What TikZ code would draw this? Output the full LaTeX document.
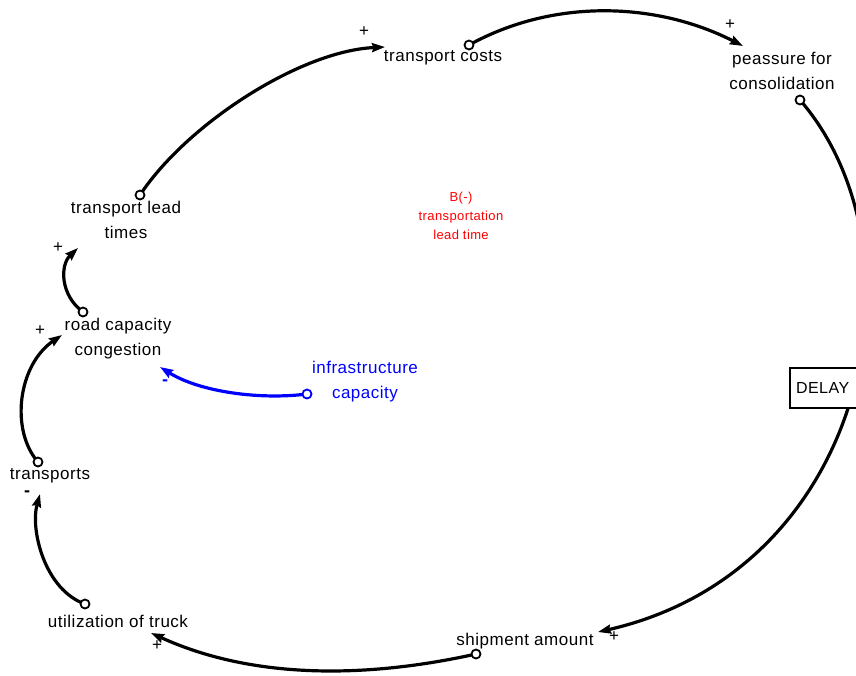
\documentclass[tikz,border=0pt]{standalone}
\usepackage{fontspec}
\setmainfont{Liberation Sans}[LetterSpace=3]
\usetikzlibrary{arrows.meta}
\definecolor{loopred}{RGB}{255,0,0}
\definecolor{infblue}{RGB}{0,0,255}
\begin{document}
\begin{tikzpicture}[x=1pt,y=-1pt,
  lbl/.style={font=\fontsize{17}{25}\selectfont, align=center, inner sep=0pt},
  link/.style={line width=3.2pt, -{Stealth[length=13pt,width=9pt,inset=1.5pt]}},
  tailc/.style={circle, draw, fill=white, line width=1.8pt, inner sep=0pt, minimum size=9pt},
  sign/.style={font=\fontsize{17}{17}\selectfont, inner sep=0pt}]
\useasboundingbox (0,0) rectangle (856,675);
\clip (0,0) rectangle (856,675);
% labels
\node[lbl] (tc) at (443,58) {transport costs};
\node[lbl] (pc) at (782,71) {peassure for\\consolidation};
\node[lbl] (tlt) at (126,220) {transport lead\\times};
\node[lbl] (rcc) at (118,339) {road capacity\\congestion};
\node[lbl, text=infblue] (ic) at (365,382) {infrastructure\\capacity};
\node[lbl] (tr) at (50,476) {transports};
\node[lbl] (ut) at (118,621) {utilization of truck};
\node[lbl] (sa) at (525,641) {shipment amount};
\node[font=\fontsize{13}{19}\selectfont, align=center, text=loopred, inner sep=0pt] (loop) at (461,216) {B(-)\\transportation\\lead time};
% connector end points
\coordinate (tltT) at (140,195);
\coordinate (tcH) at (385,47);
\coordinate (tcT) at (469,45);
\coordinate (pcH) at (743,46);
\coordinate (pcT) at (800,100);
\coordinate (saH) at (598,632);
\coordinate (saT) at (476,654);
\coordinate (utH) at (151,633);
\coordinate (utT) at (85,604);
\coordinate (trH) at (40,494);
\coordinate (trT) at (38,462);
\coordinate (rcH) at (62,335);
\coordinate (rcT) at (83,312);
\coordinate (tlH) at (78,248);
\coordinate (icT) at (307,394);
\coordinate (icH) at (160,367);
% connectors
\draw[link] (tltT) .. controls (187,124) and (300,51) .. (tcH);
\draw[link] (tcT) .. controls (554,-2) and (657,2) .. (pcH);
\draw[link] (pcT) .. controls (930,250) and (870,570) .. (saH);
\draw[link] (saT) .. controls (368,678) and (254,680) .. (utH);
\draw[link] (utT) .. controls (45,590) and (30,530) .. (trH);
\draw[link] (trT) .. controls (10,430) and (18,365) .. (rcH);
\draw[link] (rcT) .. controls (60,295) and (60,265) .. (tlH);
\draw[link, draw=infblue] (icT) .. controls (260,400) and (200,392) .. (icH);
% tail circles
\node[tailc] (c1) at (tltT) {};
\node[tailc] (c2) at (tcT) {};
\node[tailc] (c3) at (pcT) {};
\node[tailc] (c4) at (saT) {};
\node[tailc] (c5) at (utT) {};
\node[tailc] (c6) at (trT) {};
\node[tailc] (c7) at (rcT) {};
\node[tailc, draw=infblue] (c8) at (icT) {};
% delay box
\node[draw, fill=white, line width=2.2pt, font=\fontsize{16}{16}\selectfont, minimum height=40pt, minimum width=90pt, inner sep=6pt, text width=78pt, align=left] (delay) at (835,388) {DELAY};
% polarity signs
\node[sign] (s1) at (364,32) {+};
\node[sign] (s2) at (730,25) {+};
\node[sign] (s3) at (58,248) {+};
\node[sign] (s4) at (40,331) {+};
\node[sign] (s5) at (157,646) {+};
\node[sign] (s6) at (614,637) {+};
\node[sign, font=\fontsize{18}{18}\selectfont\bfseries] (s7) at (27,494) {-};
\node[sign, font=\fontsize{18}{18}\selectfont\bfseries, text=infblue] (s8) at (165,383) {-};
\end{tikzpicture}
\end{document}
